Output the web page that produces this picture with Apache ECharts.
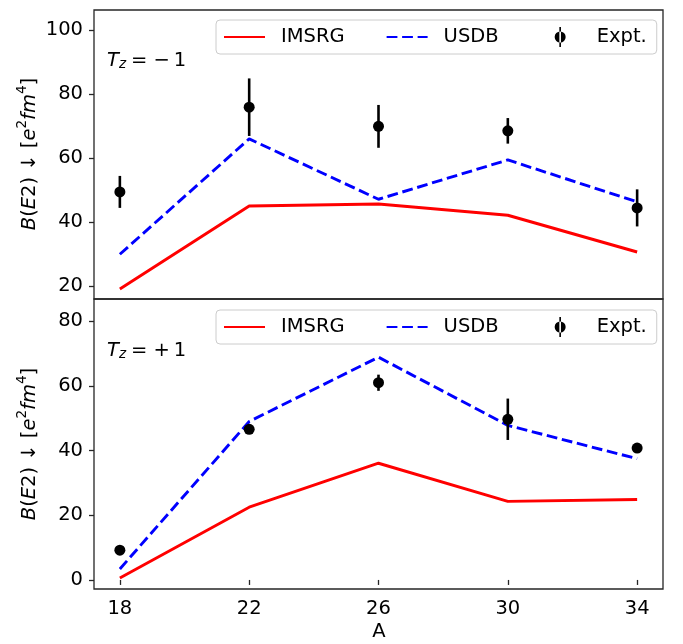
<!DOCTYPE html>
<html>
<head>
<meta charset="utf-8">
<script src="https://cdn.jsdelivr.net/npm/echarts@6/dist/echarts.min.js"></script>
<style>
  html, body { margin: 0; padding: 0; background: #fff; }
  #chart { width: 683px; height: 644px; }
</style>
</head>
<body>
<div id="chart"></div>
<script>
// Mass number A of each nucleus
const massNumbers = [18, 22, 26, 30, 34];
const xTicks = [18, 22, 26, 30, 34];

// Tz = -1 panel: B(E2) in e^2 fm^4
const imsrgMinus = [19.0, 45.0, 45.6, 42.1, 30.6];
const usdbMinus  = [29.9, 66.0, 47.1, 59.4, 46.3];
const exptMinus  = [49.4, 75.9, 69.9, 68.5, 44.4];
const errMinus   = [5.0, 9.0, 6.7, 4.0, 5.8];
const yTicksMinus = [20, 40, 60, 80, 100];

// Tz = +1 panel
const imsrgPlus = [0.6, 22.5, 36.1, 24.3, 24.9];
const usdbPlus  = [3.4, 49.0, 68.9, 47.8, 37.5];
const exptPlus  = [9.2, 46.6, 61.0, 49.7, 40.8];
const errPlus   = [0.6, 0.9, 2.5, 6.4, 0.8];
const yTicksPlus = [0, 20, 40, 60, 80];

const FONT = 'DejaVu Sans';
const FS = 19.5;
const FRAME = '#262626';

const pairs = (xs, ys) => xs.map((x, i) => [x, ys[i]]);
const triples = (xs, ys, es) => xs.map((x, i) => [x, ys[i], es[i]]);

function errorBars(idx, data) {
  return {
    type: 'custom',
    name: 'Expt. error',
    xAxisIndex: idx, yAxisIndex: idx,
    data: data,
    z: 4,
    renderItem: function (params, api) {
      const x = api.value(0), y = api.value(1), e = api.value(2);
      const hi = api.coord([x, y + e]);
      const lo = api.coord([x, y - e]);
      return {
        type: 'line',
        shape: { x1: hi[0], y1: hi[1], x2: lo[0], y2: lo[1] },
        style: { stroke: '#000', lineWidth: 2.6 }
      };
    }
  };
}

function panelSeries(idx, imsrg, usdb, expt, err) {
  return [
    {
      type: 'line', name: 'IMSRG', xAxisIndex: idx, yAxisIndex: idx,
      data: pairs(massNumbers, imsrg), symbol: 'none', z: 2,
      lineStyle: { color: '#ff0000', width: 2.9 },
      itemStyle: { color: '#ff0000' }
    },
    {
      type: 'line', name: 'USDB', xAxisIndex: idx, yAxisIndex: idx,
      data: pairs(massNumbers, usdb), symbol: 'none', z: 3,
      lineStyle: { color: '#0000ff', width: 2.9, type: [10.8, 4.7], cap: 'butt' },
      itemStyle: { color: '#0000ff' }
    },
    errorBars(idx, triples(massNumbers, expt, err)),
    {
      type: 'scatter', name: 'Expt.', xAxisIndex: idx, yAxisIndex: idx,
      data: pairs(massNumbers, expt), symbol: 'circle', symbolSize: 11, z: 5,
      itemStyle: { color: '#000', opacity: 1 }
    }
  ];
}

// errorbar glyph centred in a 41 x 20 legend slot
const errIcon = 'path://M0,10h0.01v0.01h-0.01z M40.99,10h0.01v0.01h-0.01z ' +
  'M19.7,0h1.6v20h-1.6z M15,10a5.5,5.5 0 1,0 11,0a5.5,5.5 0 1,0 -11,0z';
const hidden = { color: 'rgba(0,0,0,0)', borderColor: 'rgba(0,0,0,0)', borderWidth: 0 };

function legendAt(top) {
  return {
    left: 216, top: top,
    orient: 'horizontal',
    itemWidth: 41, itemHeight: 20, itemGap: 41,
    padding: [7, 10, 7, 7],
    backgroundColor: 'rgba(255,255,255,0.8)',
    borderColor: '#cccccc', borderWidth: 1, borderRadius: 4,
    selectedMode: false,
    textStyle: { fontFamily: FONT, fontSize: FS, color: '#000', padding: [0, 0, 0, 11] },
    data: [
      { name: 'IMSRG', itemStyle: hidden },
      { name: 'USDB', itemStyle: hidden },
      { name: 'Expt.', icon: errIcon, itemStyle: { color: '#000', opacity: 1 } }
    ]
  };
}

function xAxisFor(idx, withLabels) {
  return {
    type: 'value', gridIndex: idx, min: 17.2, max: 34.8,
    splitLine: { show: false },
    axisLine: { show: false },
    axisTick: {
      show: withLabels, customValues: xTicks, length: 5, inside: false,
      lineStyle: { color: FRAME, width: 1.3 }
    },
    axisLabel: {
      show: withLabels, customValues: xTicks, margin: 10,
      fontFamily: FONT, fontSize: FS, color: '#000'
    }
  };
}

function yAxisFor(idx, min, max, ticks) {
  return {
    type: 'value', gridIndex: idx, min: min, max: max,
    splitLine: { show: false },
    axisLine: { show: false },
    axisTick: {
      show: true, customValues: ticks, length: 5, inside: false,
      lineStyle: { color: FRAME, width: 1.3 }
    },
    axisLabel: {
      show: true, customValues: ticks, margin: 11,
      fontFamily: FONT, fontSize: FS, color: '#000'
    }
  };
}

const yLabelText = '{i|B}{n|(}{i|E}{n|2) \u2193 [}{i|e}{p|2}{i|fm}{p|4}{n|]}';
const yRich = {
  i: { fontStyle: 'italic', fontFamily: FONT, fontSize: FS, lineHeight: 30 },
  n: { fontFamily: FONT, fontSize: FS, lineHeight: 30 },
  p: { fontFamily: FONT, fontSize: 13.6, lineHeight: 13.6, verticalAlign: 'top' }
};
const tzRich = {
  i: { fontStyle: 'italic', fontFamily: FONT, fontSize: FS, lineHeight: 20 },
  s: { fontStyle: 'italic', fontFamily: FONT, fontSize: 13.6, lineHeight: 13.6, verticalAlign: 'bottom' },
  n: { fontFamily: FONT, fontSize: FS, lineHeight: 20 }
};

function yLabel(cy) {
  return {
    type: 'text', x: 30, y: cy, rotation: Math.PI / 2,
    style: {
      text: yLabelText, fill: '#000',
      align: 'center', verticalAlign: 'middle', rich: yRich
    }
  };
}

function tzLabel(cy, sign) {
  return {
    type: 'text', x: 107, y: cy,
    style: {
      text: '{i|T}{s|z}{n|\u2005=\u0020' + sign + '\u20091}', fill: '#000',
      align: 'left', verticalAlign: 'middle', rich: tzRich
    }
  };
}

const chart = echarts.init(document.getElementById('chart'), null, { renderer: 'canvas' });
chart.setOption({
  animation: false,
  backgroundColor: '#fff',
  textStyle: { fontFamily: FONT },
  grid: [
    { left: 94, top: 10, width: 569, height: 289, show: true, borderColor: FRAME, borderWidth: 1.3, backgroundColor: 'transparent' },
    { left: 94, top: 299, width: 569, height: 290, show: true, borderColor: FRAME, borderWidth: 1.3, backgroundColor: 'transparent' }
  ],
  xAxis: [xAxisFor(0, false), xAxisFor(1, true)],
  yAxis: [
    yAxisFor(0, 15.9, 106.3, yTicksMinus),
    yAxisFor(1, -2.8, 86.9, yTicksPlus)
  ],
  legend: [legendAt(20), legendAt(310)],
  series: [].concat(
    panelSeries(0, imsrgMinus, usdbMinus, exptMinus, errMinus),
    panelSeries(1, imsrgPlus, usdbPlus, exptPlus, errPlus)
  ),
  graphic: [
    yLabel(154),
    yLabel(444),
    tzLabel(61, '\u2212'),
    tzLabel(351, '+'),
    {
      type: 'text', x: 379, y: 632,
      style: { text: 'A', fontFamily: FONT, fontSize: FS, fill: '#000', align: 'center', verticalAlign: 'middle' }
    }
  ]
});
</script>
</body>
</html>
